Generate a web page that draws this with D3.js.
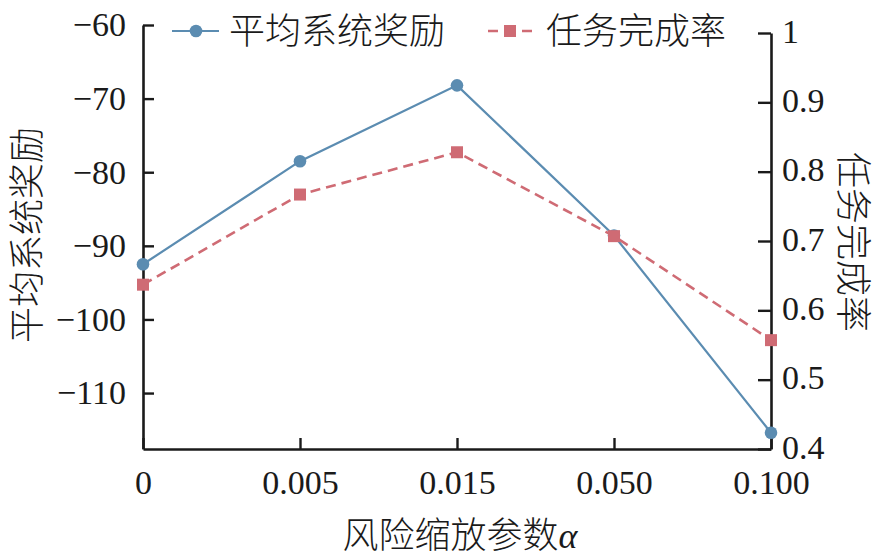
<!DOCTYPE html>
<html>
<head>
<meta charset="utf-8">
<script src="https://cdn.jsdelivr.net/npm/d3@7"></script>
<style>
  body { margin: 0; background: #fff; }
  svg { display: block; }
  .tick text { font-family: "Liberation Serif", "DejaVu Serif", serif; font-size: 34px; fill: #1a1a1a; }
  .cjk { font-family: "Noto Sans CJK SC", sans-serif; font-weight: 300; fill: #1a1a1a; }
</style>
</head>
<body>
<svg id="drawing_region"></svg>
<script>
// data
const categories = ['0', '0.005', '0.015', '0.050', '0.100'];
const reward = [-92.5, -78.5, -68.2, -88.6, -115.4];
const completion = [0.637, 0.767, 0.828, 0.707, 0.557];
const left_ticks = [-60, -70, -80, -90, -100, -110];
const right_ticks = [1, 0.9, 0.8, 0.7, 0.6, 0.5, 0.4];

const width = 879;
const height = 560;
const blue = '#5b8cb1';
const red = '#cf6b74';

const svg = d3.select('#drawing_region')
    .attr('width', width)
    .attr('height', height);

const xscale = d3.scalePoint()
      .domain(categories)
      .range([143, 771]);

const yleft = d3.scaleLinear()
      .domain([-117.6, -60])
      .range([449, 25]);

const yright = d3.scaleLinear()
      .domain([0.4, 1])
      .range([449, 33]);

// axes
const xaxis = d3.axisBottom(xscale)
      .tickSize(-11)
      .tickPadding(21)
      .tickSizeOuter(0);
const leftaxis = d3.axisLeft(yleft)
      .tickValues(left_ticks)
      .tickSize(-11)
      .tickPadding(17)
      .tickSizeOuter(0);
const rightaxis = d3.axisRight(yright)
      .tickValues(right_ticks)
      .tickSize(-13)
      .tickPadding(11)
      .tickFormat(d => d === 1 ? '1' : d3.format('.1f')(d))
      .tickSizeOuter(0);

const xg = svg.append('g')
      .attr('transform', 'translate(0, 449)')
      .call(xaxis);
const lg = svg.append('g')
      .attr('transform', 'translate(143, 0)')
      .call(leftaxis);
const rg = svg.append('g')
      .attr('transform', 'translate(771, 0)')
      .call(rightaxis);
rg.selectAll('.tick text').attr('dy', '0.27em');

[xg, lg, rg].forEach(g => {
    g.select('.domain').attr('stroke', '#1a1a1a').attr('stroke-width', 2.6);
    g.selectAll('.tick line').attr('stroke', '#1a1a1a').attr('stroke-width', 2.4);
    g.attr('font-family', null).attr('font-size', null);
});

// lines
const line_reward = d3.line()
      .x((d, i) => xscale(categories[i]))
      .y(d => yleft(d));
const line_rate = d3.line()
      .x((d, i) => xscale(categories[i]))
      .y(d => yright(d));

svg.append('path')
    .attr('d', line_reward(reward))
    .attr('fill', 'none')
    .attr('stroke', blue)
    .attr('stroke-width', 2.2);

svg.selectAll('.pt-reward')
    .data(reward)
    .join('circle')
    .attr('class', 'pt-reward')
    .attr('cx', (d, i) => xscale(categories[i]))
    .attr('cy', d => yleft(d))
    .attr('r', 6.3)
    .attr('fill', blue);

svg.append('path')
    .attr('d', line_rate(completion))
    .attr('fill', 'none')
    .attr('stroke', red)
    .attr('stroke-width', 2.6)
    .attr('stroke-dasharray', '10,6');

svg.selectAll('.pt-rate')
    .data(completion)
    .join('rect')
    .attr('class', 'pt-rate')
    .attr('x', (d, i) => xscale(categories[i]) - 6)
    .attr('y', d => yright(d) - 6)
    .attr('width', 12)
    .attr('height', 12)
    .attr('fill', red);

// legend
const legend = svg.append('g');
legend.append('line')
    .attr('x1', 172).attr('x2', 219).attr('y1', 31).attr('y2', 31)
    .attr('stroke', blue).attr('stroke-width', 2.2);
legend.append('circle')
    .attr('cx', 196).attr('cy', 31).attr('r', 6.3).attr('fill', blue);
legend.append('text')
    .attr('class', 'cjk')
    .attr('x', 229).attr('y', 44)
    .attr('font-size', 36)
    .text('平均系统奖励');

legend.append('line')
    .attr('x1', 488).attr('x2', 533).attr('y1', 31).attr('y2', 31)
    .attr('stroke', red).attr('stroke-width', 2.6)
    .attr('stroke-dasharray', '10,7');
legend.append('rect')
    .attr('x', 504).attr('y', 25).attr('width', 12).attr('height', 12).attr('fill', red);
legend.append('text')
    .attr('class', 'cjk')
    .attr('x', 546).attr('y', 44)
    .attr('font-size', 36)
    .text('任务完成率');

// axis titles
svg.append('text')
    .attr('class', 'cjk')
    .attr('transform', 'translate(24, 235) rotate(-90)')
    .attr('text-anchor', 'middle')
    .attr('dominant-baseline', 'central')
    .attr('font-size', 36)
    .text('平均系统奖励');

svg.append('text')
    .attr('class', 'cjk')
    .attr('transform', 'translate(856, 242) rotate(90)')
    .attr('text-anchor', 'middle')
    .attr('dominant-baseline', 'central')
    .attr('font-size', 36)
    .text('任务完成率');

const xtitle = svg.append('text')
    .attr('class', 'cjk')
    .attr('x', 460).attr('y', 548)
    .attr('text-anchor', 'middle')
    .attr('font-size', 36);
xtitle.append('tspan').text('风险缩放参数');
xtitle.append('tspan')
    .attr('font-family', '"Liberation Serif", serif')
    .attr('font-style', 'italic')
    .attr('font-weight', 400)
    .text('α');
</script>
</body>
</html>
